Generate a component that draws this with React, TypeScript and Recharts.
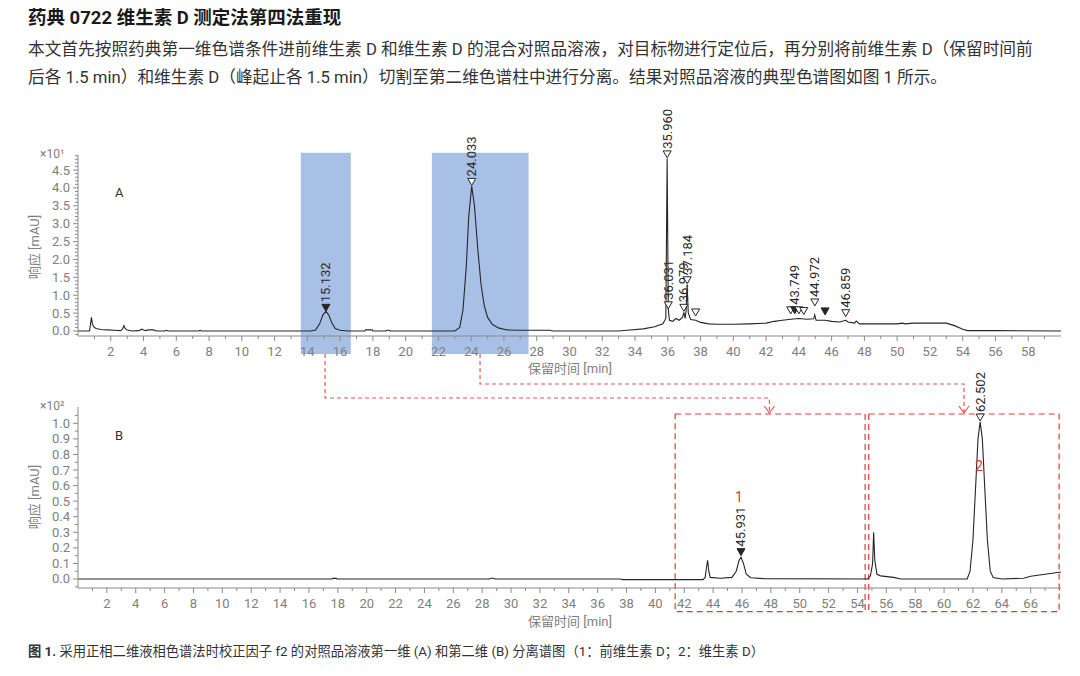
import React from 'react';
import { ComposedChart, Line, Scatter, XAxis, YAxis, ReferenceArea } from 'recharts';

const FONT = "Roboto, 'Noto Sans CJK SC', sans-serif";
const AXIS = '#8a8a8a';
const TICK_TEXT = '#808080';
const TRACE = '#262626';
const RED = '#e53935';
const BLUE = '#a8c0e6';

// 第一维 (A)：保留时间 [min]，响应 [×10 mAU]
const traceA: [number, number][] = [
  [0, 0], [0.7, 0], [0.76, 0.18], [0.82, 0.38], [0.88, 0.2], [0.95, 0.12], [1.1, 0.07], [1.4, 0.04],
  [1.8, 0.03], [2.2, 0.02], [2.6, 0.01], [2.72, 0.05], [2.8, 0.15], [2.88, 0.07], [3.0, 0.03], [3.3, 0],
  [3.7, 0.01], [3.9, 0.05], [4.1, 0.01], [4.3, 0.03], [4.6, 0.03], [4.8, 0], [5.3, 0], [5.4, 0.02],
  [5.5, 0], [7.35, 0], [7.45, 0.02], [7.55, 0], [14.2, 0], [14.5, 0.03], [14.75, 0.2], [14.95, 0.45],
  [15.13, 0.55], [15.3, 0.45], [15.5, 0.22], [15.7, 0.07], [16.0, 0.02], [16.5, 0], [17.5, 0],
  [17.55, 0.03], [17.95, 0.03], [18.0, 0], [18.8, 0], [18.85, 0.02], [19.0, 0.02], [19.05, 0],
  [23.0, 0], [23.3, 0.1], [23.5, 0.6], [23.7, 1.8], [23.85, 3.2], [24.03, 4.05], [24.2, 3.5],
  [24.4, 2.3], [24.6, 1.3], [24.8, 0.7], [25.0, 0.38], [25.3, 0.18], [25.7, 0.08], [26.2, 0.03],
  [27.0, 0.02], [28.8, 0.02], [29.0, 0], [33.0, 0], [33.5, 0.02], [34.5, 0.06], [35.2, 0.12],
  [35.7, 0.2], [35.88, 0.35], [35.96, 4.82], [36.03, 0.6], [36.1, 0.3], [36.3, 0.27], [36.5, 0.35],
  [36.7, 0.3], [36.9, 0.38], [36.98, 0.52], [37.06, 0.35], [37.12, 0.6], [37.18, 1.3], [37.25, 0.5],
  [37.4, 0.32], [37.7, 0.3], [38.0, 0.24], [38.5, 0.2], [39.0, 0.19], [40.0, 0.19], [41.0, 0.2],
  [42.0, 0.22], [42.5, 0.27], [43.0, 0.3], [43.5, 0.33], [44.0, 0.35], [44.5, 0.33], [44.9, 0.34],
  [44.97, 0.45], [45.05, 0.3], [45.6, 0.3], [46.0, 0.27], [46.5, 0.25], [46.86, 0.3], [47.0, 0.25],
  [47.4, 0.22], [47.5, 0.28], [47.7, 0.2], [48.0, 0.2], [50.0, 0.2], [50.3, 0.22], [50.5, 0.2],
  [51.0, 0.22], [53.0, 0.22], [53.5, 0.15], [54.0, 0.05], [54.3, 0.01], [56.0, 0.01], [60.0, 0],
];

const peaksA = [
  { t: 15.132, y: 0.55, label: '15.132', filled: true },
  { t: 24.033, y: 4.07, label: '24.033', filled: false },
  { t: 35.96, y: 4.84, label: '35.960', filled: false },
  { t: 36.031, y: 0.62, label: '36.031', filled: false },
  { t: 36.979, y: 0.55, label: '36.979', filled: false },
  { t: 37.184, y: 1.32, label: '37.184', filled: false },
  { t: 37.7, y: 0.42, label: '', filled: false },
  { t: 43.5, y: 0.48, label: '', filled: false },
  { t: 43.749, y: 0.48, label: '43.749', filled: true },
  { t: 44.0, y: 0.48, label: '', filled: false },
  { t: 44.3, y: 0.46, label: '', filled: false },
  { t: 44.972, y: 0.7, label: '44.972', filled: false },
  { t: 45.6, y: 0.45, label: '', filled: true },
  { t: 46.859, y: 0.4, label: '46.859', filled: false },
];

// 切割窗口 (前维生素 D、维生素 D)
const cutStartA = [13.6, 21.6];
const cutEndA = [16.65, 27.5];

// 第二维 (B)：保留时间 [min]，响应 [×100 mAU]
const traceB: [number, number][] = [
  [0, 0], [17.6, 0], [17.65, 0.004], [17.9, 0.004], [17.95, 0], [28.5, 0], [28.6, 0.005], [28.8, 0.005],
  [28.9, 0], [37.6, 0], [37.7, -0.004], [43.3, -0.004], [43.45, 0.01], [43.55, 0.08], [43.62, 0.12],
  [43.7, 0.05], [43.8, 0.01], [44.5, 0.005], [45.3, 0.01], [45.6, 0.05], [45.8, 0.12], [45.93, 0.14],
  [46.1, 0.1], [46.3, 0.03], [46.6, 0.008], [47.5, 0.002], [54.7, 0], [54.9, 0.02], [55.05, 0.1],
  [55.12, 0.3], [55.2, 0.12], [55.35, 0.03], [55.6, 0.02], [56.5, 0.01], [57.0, 0], [61.6, 0],
  [61.8, 0.05], [62.0, 0.25], [62.2, 0.62], [62.35, 0.9], [62.5, 1.01], [62.65, 0.9], [62.8, 0.62],
  [63.0, 0.25], [63.2, 0.05], [63.4, 0.01], [64.0, 0], [65.5, 0.005], [66.0, 0.018], [67.0, 0.03],
  [68.1, 0.045],
];

const peaksB = [
  { t: 45.931, y: 0.15, label: '45.931', filled: true },
  { t: 62.502, y: 1.015, label: '62.502', filled: false },
];

// 收集馏分框与峰号
const fracStartB = [41.37, 54.78];
const fracEndB = [54.53, 67.97];
const peakNames = [
  { t: 45.79, y: 0.527, text: '1' },
  { t: 62.42, y: 0.726, text: '2' },
];

// 切割转移箭头：A 中起点 → B 中终点
const arrowFromA = [15.08, 24.54];
const arrowToB = [47.9, 61.38];
const arrowRowY = [398, 384];

const xTicksA = [2, 4, 6, 8, 10, 12, 14, 16, 18, 20, 22, 24, 26, 28, 30, 32, 34, 36, 38, 40, 42, 44, 46, 48, 50, 52, 54, 56, 58];
const xTicksB = [2, 4, 6, 8, 10, 12, 14, 16, 18, 20, 22, 24, 26, 28, 30, 32, 34, 36, 38, 40, 42, 44, 46, 48, 50, 52, 54, 56, 58, 60, 62, 64, 66];
const yTicksA = [0, 0.5, 1, 1.5, 2, 2.5, 3, 3.5, 4, 4.5];
const yTicksB = [0, 0.1, 0.2, 0.3, 0.4, 0.5, 0.6, 0.7, 0.8, 0.9, 1.0];

const PLOT_L = 78;
const PLOT_R = 1061;
const domXA: [number, number] = [0, 60];
const domXB: [number, number] = [0, 68.1];
const domYA: [number, number] = [-0.14, 4.92];
const domYB: [number, number] = [-0.058, 1.105];

const withMinor = (major: number[], step: number, lo: number, hi: number) => {
  const out: number[] = [];
  for (let v = lo; v <= hi + 1e-9; v += step) out.push(Math.round(v * 1000) / 1000);
  return out.filter((v) => !major.some((m) => Math.abs(m - v) < 1e-6)).concat(major);
};

const sx = (dom: [number, number], t: number) => PLOT_L + ((t - dom[0]) / (dom[1] - dom[0])) * (PLOT_R - PLOT_L);

const makeXTick = (labels: number[]) => (p: any) => {
  const v = p.payload.value;
  const major = labels.includes(v);
  return (
    <g>
      <line x1={p.x} x2={p.x} y1={p.y} y2={p.y + (major ? 5 : 3)} stroke={AXIS} />
      {major && (
        <text x={p.x} y={p.y + 15} textAnchor="middle" dominantBaseline="central" fontSize={13} fill={TICK_TEXT} fontFamily={FONT}>
          {v}
        </text>
      )}
    </g>
  );
};

const makeYTick = (labels: number[], digits: number) => (p: any) => {
  const v = p.payload.value;
  const major = labels.some((m) => Math.abs(m - v) < 1e-6);
  return (
    <g>
      <line x1={p.x} x2={p.x - (major ? 5 : 3)} y1={p.y} y2={p.y} stroke={AXIS} />
      {major && (
        <text x={p.x - 8} y={p.y} textAnchor="end" dominantBaseline="central" fontSize={13} fill={TICK_TEXT} fontFamily={FONT}>
          {v.toFixed(digits)}
        </text>
      )}
    </g>
  );
};

const PeakMark = (p: any) => {
  const { cx, cy, payload } = p;
  const tri = `M${cx - 4},${cy - 7} L${cx + 4},${cy - 7} L${cx},${cy} Z`;
  return (
    <g>
      <path d={tri} fill={payload.filled ? TRACE : '#fff'} stroke={TRACE} strokeWidth={1} />
      {payload.label && (
        <text
          x={cx}
          y={cy - 9}
          transform={`rotate(-90 ${cx} ${cy - 9})`}
          textAnchor="start"
          dominantBaseline="central"
          fontSize={13}
          fill="#2a2a2a"
          fontFamily={FONT}
        >
          {payload.label}
        </text>
      )}
    </g>
  );
};

const PeakName = (p: any) => (
  <text x={p.cx} y={p.cy} textAnchor="middle" dominantBaseline="central" fontSize={14} fill={RED} fontFamily={FONT}>
    {p.payload.text}
  </text>
);

const abs = (left: number, top: number, extra: React.CSSProperties = {}): React.CSSProperties => ({
  position: 'absolute',
  left,
  top,
  fontFamily: FONT,
  whiteSpace: 'nowrap',
  ...extra,
});

const YTitle = ({ cy }: { cy: number }) => (
  <div style={abs(33, cy, { transform: 'translate(-50%, -50%) rotate(-90deg)', fontSize: 13, color: TICK_TEXT })}>响应 [mAU]</div>
);

export default function App() {
  const dataA = traceA.map(([t, y]) => ({ t, y }));
  const dataB = traceB.map(([t, y]) => ({ t, y }));
  const xMinorA = Array.from({ length: 59 }, (_, i) => i + 1);
  const xMinorB = Array.from({ length: 68 }, (_, i) => i + 1);

  return (
    <div style={{ position: 'fixed', left: 0, top: 0, width: 1080, height: 676, background: '#fff', overflow: 'hidden' }}>
      <div style={abs(28, 5, { fontSize: 18.5, fontWeight: 700, lineHeight: '26px', color: '#1a1a1a' })}>
        药典 0722 维生素 D 测定法第四法重现
      </div>
      <div style={abs(28, 36, { fontSize: 16.7, lineHeight: '28px', color: '#333' })}>
        本文首先按照药典第一维色谱条件进前维生素 D 和维生素 D 的混合对照品溶液，对目标物进行定位后，再分别将前维生素 D（保留时间前
        <br />
        后各 1.5 min）和维生素 D（峰起止各 1.5 min）切割至第二维色谱柱中进行分离。结果对照品溶液的典型色谱图如图 1 所示。
      </div>

      {/* 第一维 A */}
      <div style={{ position: 'absolute', left: 0, top: 95 }}>
        <ComposedChart width={1080} height={285} margin={{ top: 60, right: 19, bottom: 14, left: 28 }}>
          <XAxis
            type="number"
            dataKey="t"
            domain={domXA}
            ticks={xMinorA}
            interval={0}
            tickSize={0}
            tickMargin={0}
            height={30}
            stroke={AXIS}
            tick={makeXTick(xTicksA)}
          />
          <YAxis
            type="number"
            domain={domYA}
            ticks={withMinor(yTicksA, 0.1, -0.1, 4.9)}
            interval={0}
            tickSize={0}
            tickMargin={0}
            width={50}
            stroke={AXIS}
            tick={makeYTick(yTicksA, 1)}
          />
          {cutStartA.map((x1, i) => (
            <ReferenceArea key={i} x1={x1} x2={cutEndA[i]} y1={-0.64} y2={4.98} fill={BLUE} fillOpacity={1} stroke="none" ifOverflow="visible" />
          ))}
          <Line data={dataA} dataKey="y" type="linear" stroke={TRACE} strokeWidth={1.1} dot={false} isAnimationActive={false} />
          <Scatter data={peaksA} dataKey="y" shape={PeakMark} isAnimationActive={false} />
        </ComposedChart>
      </div>
      <div style={abs(40, 147, { fontSize: 12, color: TICK_TEXT })}>×10¹</div>
      <div style={abs(115, 185, { fontSize: 13, color: '#333' })}>A</div>
      <YTitle cy={247} />
      <div style={abs(570, 367, { transform: 'translate(-50%, -50%)', fontSize: 13, color: TICK_TEXT })}>保留时间 [min]</div>

      {/* 第二维 B */}
      <div style={{ position: 'absolute', left: 0, top: 360 }}>
        <ComposedChart width={1080} height={280} margin={{ top: 47, right: 19, bottom: 22, left: 28 }}>
          <XAxis
            type="number"
            dataKey="t"
            domain={domXB}
            ticks={xMinorB}
            interval={0}
            tickSize={0}
            tickMargin={0}
            height={30}
            stroke={AXIS}
            tick={makeXTick(xTicksB)}
          />
          <YAxis
            type="number"
            domain={domYB}
            ticks={withMinor(yTicksB, 0.05, -0.05, 1.05)}
            interval={0}
            tickSize={0}
            tickMargin={0}
            width={50}
            stroke={AXIS}
            tick={makeYTick(yTicksB, 1)}
          />
          {fracStartB.map((x1, i) => (
            <ReferenceArea
              key={i}
              x1={x1}
              x2={fracEndB[i]}
              y1={-0.21}
              y2={1.06}
              fill="none"
              stroke={RED}
              strokeWidth={1.2}
              strokeDasharray="6 4"
              ifOverflow="visible"
            />
          ))}
          <Line data={dataB} dataKey="y" type="linear" stroke={TRACE} strokeWidth={1.1} dot={false} isAnimationActive={false} />
          <Scatter data={peaksB} dataKey="y" shape={PeakMark} isAnimationActive={false} />
          <Scatter data={peakNames} dataKey="y" shape={PeakName} isAnimationActive={false} />
        </ComposedChart>
      </div>
      <div style={abs(40, 399, { fontSize: 12, color: TICK_TEXT })}>×10²</div>
      <div style={abs(115, 428, { fontSize: 13, color: '#333' })}>B</div>
      <YTitle cy={497} />
      <div style={abs(570, 620, { transform: 'translate(-50%, -50%)', fontSize: 13, color: TICK_TEXT })}>保留时间 [min]</div>

      <svg width={1080} height={676} style={{ position: 'absolute', left: 0, top: 0, pointerEvents: 'none' }}>
        {arrowFromA.map((t, i) => {
          const xa = sx(domXA, t);
          const xb = sx(domXB, arrowToB[i]);
          return (
            <g key={i} fill="none" stroke={RED} strokeWidth={1.2}>
              <path d={`M${xa},354 V${arrowRowY[i]} H${xb} V412`} strokeDasharray="4 3" strokeOpacity={0.85} />
              <path d={`M${xb - 5},406 L${xb},413 L${xb + 5},406`} strokeOpacity={0.85} />
            </g>
          );
        })}
      </svg>

      <div style={abs(28, 642, { fontSize: 13.3, lineHeight: '20px', color: '#333' })}>
        <b>图 1.</b> 采用正相二维液相色谱法时校正因子 f2 的对照品溶液第一维 (A) 和第二维 (B) 分离谱图（1：前维生素 D；2：维生素 D）
      </div>
    </div>
  );
}
